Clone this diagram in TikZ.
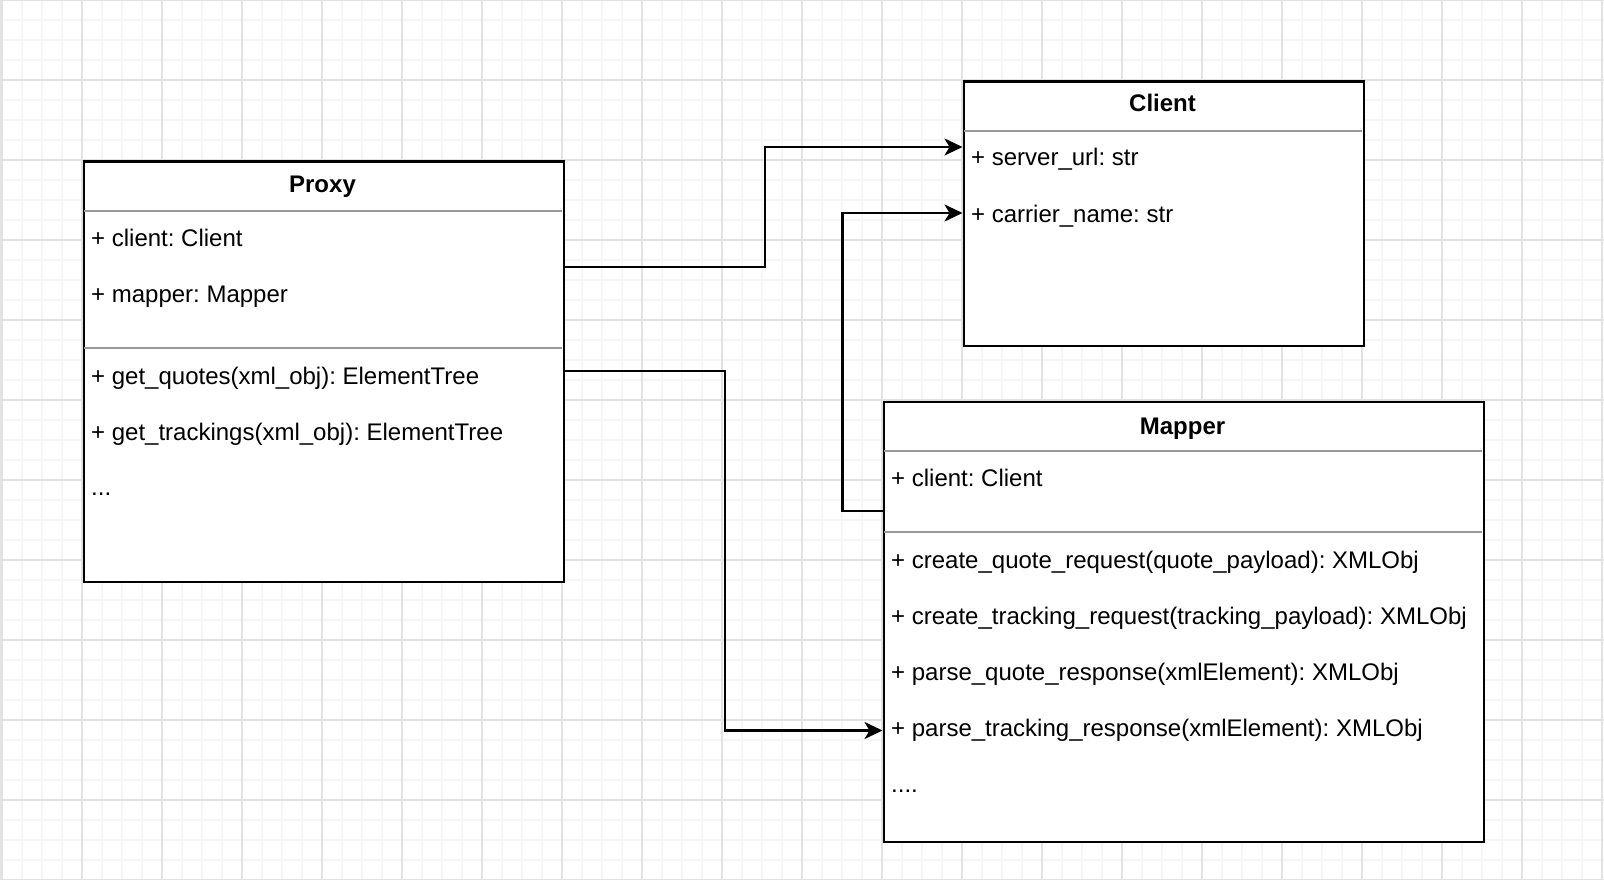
\documentclass[tikz,border=0pt]{standalone}
\usepackage{fontspec}
\setmainfont{Liberation Sans}
\usetikzlibrary{arrows.meta}

\definecolor{gridminor}{RGB}{246,246,246}
\definecolor{gridmajor}{RGB}{226,226,226}
\definecolor{sepgray}{RGB}{153,153,153}

\begin{document}
\frenchspacing
\begin{tikzpicture}[x=1pt,y=-1pt,
  classbox/.style={draw=black, line width=2.4pt, fill=white, anchor=north west, inner sep=0pt},
  classtitle/.style={font=\fontsize{24}{28}\selectfont\bfseries, anchor=base, inner sep=0pt},
  member/.style={font=\fontsize{24}{28}\selectfont, anchor=base west, inner sep=0pt},
  divider/.style={draw=sepgray, line width=2pt},
  link/.style={draw=black, line width=2.4pt, -{Stealth[length=18pt,width=17pt,inset=5pt]}},
]
% canvas
\useasboundingbox (0,0) rectangle (1604,880);
\fill[white] (0,0) rectangle (1604,880);

% background grid: fine lines every 20, strong lines every 80
\foreach \i in {0,...,80} \draw[gridminor, line width=1.3pt] ({2+20*\i},0) -- ({2+20*\i},880);
\foreach \j in {0,...,44} \draw[gridminor, line width=1.3pt] (0,{20*\j}) -- (1604,{20*\j});
\foreach \i in {0,...,20} \draw[gridmajor, line width=1.1pt] ({2+80*\i},0) -- ({2+80*\i},880);
\foreach \j in {0,...,11} \draw[gridmajor, line width=1.1pt] (0,{80*\j}) -- (1604,{80*\j});
\fill[gridmajor] (0,0) rectangle (2.5,880);

% ---------- Proxy ----------
\node[classbox, minimum width=480pt, minimum height=420pt] (proxy) at (82.5,160.5) {};
\draw[divider] (83.5,211) -- (561.5,211);
\draw[divider] (83.5,348) -- (561.5,348);
\node[classtitle] (proxyT) at (322.5,193) {Proxy};
\node[member] (proxyA1) at (91,246) {+ client: Client};
\node[member] (proxyA2) at (91,302) {+ mapper: Mapper};
\node[member] (proxyM1) at (91,384) {+ get\_quotes(xml\_obj): ElementTree};
\node[member] (proxyM2) at (91,440) {+ get\_trackings(xml\_obj): ElementTree};
\node[member] (proxyM3) at (91,495) {...};

% ---------- Client ----------
\node[classbox, minimum width=400pt, minimum height=264pt] (client) at (962.5,80.5) {};
\draw[divider] (963.5,131) -- (1361.5,131);
\node[classtitle] (clientT) at (1162.5,112) {Client};
\node[member] (clientA1) at (971,166) {+ server\_url: str};
\node[member] (clientA2) at (971,222) {+ carrier\_name: str};

% ---------- Mapper ----------
\node[classbox, minimum width=600pt, minimum height=440pt] (mapper) at (882.5,400.5) {};
\draw[divider] (883.5,451) -- (1481.5,451);
\draw[divider] (883.5,532) -- (1481.5,532);
\node[classtitle] (mapperT) at (1182.5,434) {Mapper};
\node[member] (mapperA1) at (891,486) {+ client: Client};
\node[member] (mapperM1) at (891,568) {+ create\_quote\_request(quote\_payload): XMLObj};
\node[member] (mapperM2) at (891,624) {+ create\_tracking\_request(tracking\_payload): XMLObj};
\node[member] (mapperM3) at (891,680) {+ parse\_quote\_response(xmlElement): XMLObj};
\node[member] (mapperM4) at (891,736) {+ parse\_tracking\_response(xmlElement): XMLObj};
\node[member] (mapperM5) at (891,792) {....};

% ---------- ports on the class borders ----------
\coordinate (proxyOut1) at ([yshift=-106.5pt]proxy.north east);
\coordinate (proxyOut2) at ([yshift=-210.5pt]proxy.north east);
\coordinate (clientIn1) at ([yshift=-66.5pt]client.north west);
\coordinate (clientIn2) at ([yshift=-132.5pt]client.north west);
\coordinate (mapperOut) at ([yshift=-110.5pt]mapper.north west);
\coordinate (mapperIn)  at ([yshift=-330pt]mapper.north west);

% ---------- associations ----------
\draw[link] (proxyOut1) -- ++(200,0) |- (clientIn1);
\draw[link] (mapperOut) -- ++(-40,0) |- (clientIn2);
\draw[link] (proxyOut2) -- ++(160,0) |- (mapperIn);
\end{tikzpicture}
\end{document}
